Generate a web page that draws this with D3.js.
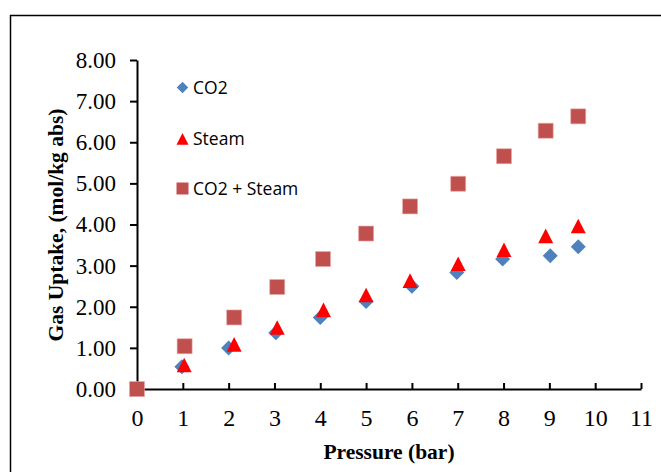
<!DOCTYPE html>
<html>
<head>
<meta charset="utf-8">
<script src="https://cdn.jsdelivr.net/npm/d3@7/dist/d3.min.js"></script>
<style>
  html, body { margin: 0; padding: 0; background: #fff; }
  svg { display: block; }
</style>
</head>
<body>
<svg id="chart" width="661" height="472"></svg>
<script>
// ---- data ----
const seriesNames = ["CO2", "Steam", "CO2 + Steam"];
const pressureCO2 = [0, 0.98, 2.0, 3.03, 4.0, 5.0, 6.0, 6.98, 7.98, 9.02, 9.63];
const uptakeCO2 = [0, 0.54, 1.0, 1.37, 1.74, 2.13, 2.5, 2.83, 3.16, 3.24, 3.46];
const pressureSteam = [0, 1.03, 2.12, 3.06, 4.07, 5.0, 5.96, 7.01, 8.01, 8.92, 9.63];
const uptakeSteam = [0, 0.58, 1.08, 1.49, 1.92, 2.28, 2.63, 3.04, 3.38, 3.72, 3.96];
const pressureMix = [0, 1.04, 2.12, 3.06, 4.06, 5.0, 5.96, 7.01, 8.01, 8.92, 9.63];
const uptakeMix = [0, 1.04, 1.74, 2.48, 3.16, 3.78, 4.44, 4.99, 5.66, 6.28, 6.63];
const xTicks = [0, 1, 2, 3, 4, 5, 6, 7, 8, 9, 10, 11];
const yTicks = [0, 1, 2, 3, 4, 5, 6, 7, 8];
const xTitle = "Pressure (bar)";
const yTitle = "Gas Uptake, (mol/kg abs)";

// ---- custom marker shapes ----
const diamondShape = { draw(ctx, size) { const r = Math.sqrt(size) / 2;
  ctx.moveTo(0, -r); ctx.lineTo(r, 0); ctx.lineTo(0, r); ctx.lineTo(-r, 0); ctx.closePath(); } };
const triangleShape = { draw(ctx, size) { const r = Math.sqrt(size) / 2;
  ctx.moveTo(0, -r); ctx.lineTo(r, r * 0.95); ctx.lineTo(-r, r * 0.95); ctx.closePath(); } };
const squareShape = { draw(ctx, size) { const r = Math.sqrt(size) / 2;
  ctx.rect(-r, -r, 2 * r, 2 * r); } };

const series = [
  { name: seriesNames[0], xs: pressureCO2, ys: uptakeCO2, shape: diamondShape, color: "#4F81BD", size: 15, lsize: 11.5, stroke: "none" },
  { name: seriesNames[1], xs: pressureSteam, ys: uptakeSteam, shape: triangleShape, color: "#FF0000", size: 15, lsize: 12, stroke: "none" },
  { name: seriesNames[2], xs: pressureMix, ys: uptakeMix, shape: squareShape, color: "#C0504D", size: 15, lsize: 12, stroke: "#E6A9A7" }
];

const svg = d3.select("#chart");
const serif = "'Liberation Serif', 'Times New Roman', serif";

// outer frame
svg.append("rect").attr("x", 10.5).attr("y", 15.5).attr("width", 700).attr("height", 500)
  .attr("fill", "none").attr("stroke", "#000").attr("stroke-width", 1.5);

const x = d3.scaleLinear().domain([0, 11]).range([137, 641]);
const y = d3.scaleLinear().domain([0, 8]).range([389, 60]);

// y axis
const yAxis = svg.append("g").attr("transform", `translate(${x(0)},0)`)
  .call(d3.axisLeft(y).tickValues(yTicks).tickFormat(d3.format(".2f")).tickSizeInner(7).tickSizeOuter(0).tickPadding(14));
yAxis.select(".domain").attr("stroke", "#000").attr("stroke-width", 2);
yAxis.selectAll(".tick line").attr("stroke", "#000").attr("stroke-width", 2);
yAxis.selectAll(".tick text").attr("fill", "#000")
  .style("font-family", serif).style("font-size", "23px");

// x axis
const xAxis = svg.append("g").attr("transform", `translate(0,${y(0)})`)
  .call(d3.axisBottom(x).tickValues(xTicks).tickFormat(d3.format("d")).tickSizeInner(-6).tickSizeOuter(0));
xAxis.select(".domain").attr("stroke", "#000").attr("stroke-width", 2);
xAxis.selectAll(".tick line").attr("stroke", "#000").attr("stroke-width", 2);
xAxis.selectAll(".tick text").attr("fill", "#000").attr("y", 37).attr("dy", null)
  .style("font-family", serif).style("font-size", "24px");

// axis titles
svg.append("text").attr("x", 389).attr("y", 459).attr("text-anchor", "middle")
  .style("font-family", serif).style("font-size", "21.5px").style("font-weight", "bold")
  .text(xTitle);
svg.append("text").attr("transform", "translate(63,225) rotate(-90)").attr("text-anchor", "middle")
  .style("font-family", serif).style("font-size", "21.5px").style("font-weight", "bold")
  .text(yTitle);

// points
series.forEach(s => {
  const pts = s.xs.map((v, i) => [v, s.ys[i]]);
  svg.append("g").selectAll("path").data(pts).join("path")
    .attr("transform", d => `translate(${x(d[0])},${y(d[1])})`)
    .attr("d", d3.symbol().type(s.shape).size(s.size * s.size))
    .attr("fill", s.color).attr("stroke", s.stroke).attr("stroke-width", 0.6);
});

// legend
const legendY = [87.5, 139, 188.5];
const legend = svg.append("g");
series.forEach((s, i) => {
  legend.append("path").attr("transform", `translate(182.5,${legendY[i]})`)
    .attr("d", d3.symbol().type(s.shape).size(s.lsize * s.lsize))
    .attr("fill", s.color);
  legend.append("text").attr("x", 193).attr("y", legendY[i] + 6)
    .style("font-family", "'Open Sans', 'Liberation Sans', sans-serif").style("font-size", "17.5px")
    .attr("fill", "#000").text(s.name);
});
</script>
</body>
</html>
